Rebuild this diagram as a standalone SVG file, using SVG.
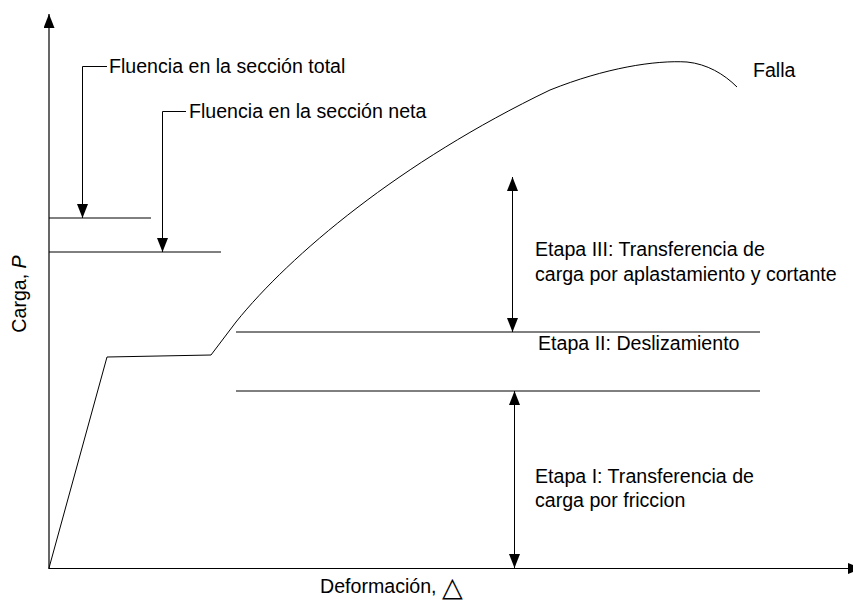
<svg xmlns="http://www.w3.org/2000/svg" width="853" height="601" viewBox="0 0 853 601">
<defs>
<marker id="ah" viewBox="0 0 14 11" refX="14" refY="5.5" markerWidth="14" markerHeight="11" markerUnits="userSpaceOnUse" orient="auto-start-reverse">
<path d="M0,0 L14,5.5 L0,11 Z" fill="#000"/>
</marker>
</defs>
<style>
text{font-family:"Liberation Sans",Arial,sans-serif;font-size:19.6px;fill:#000}
.ln{stroke:#000;stroke-width:1;fill:none}
.ax{stroke:#000;stroke-width:1.2;fill:none}
</style>
<rect width="853" height="601" fill="#fff"/>
<g id="axes">
<path class="ax" d="M49,568.5 L49,14" marker-end="url(#ah)"/>
<path class="ax" d="M48.4,568.5 L862,568.5" marker-end="url(#ah)"/>
<text id="xlabel" x="320" y="593">Deformación, <tspan font-family="'DejaVu Sans',sans-serif" font-size="27px" dy="3">△</tspan></text>
<text id="ylabel" transform="translate(26,294) rotate(-90)" text-anchor="middle">Carga, <tspan font-style="italic">P</tspan></text>
</g>
<g id="curve">
<path class="ln" d="M49,568 L107,357 L211,355 L236,322 C290,255 400,162 550,90 C605,68 655,60 687,62 C707,64 724,74 737,87"/>
<text x="753" y="77">Falla</text>
</g>
<g id="levels">
<line class="ln" x1="49" y1="218" x2="151" y2="218"/>
<line class="ln" x1="49" y1="252" x2="221" y2="252"/>
<line class="ln" x1="236" y1="332" x2="760" y2="332"/>
<line class="ln" x1="236" y1="391" x2="760" y2="391"/>
</g>
<g id="connectors">
<path class="ln" d="M107,66.5 L82.5,66.5 L82.5,218" marker-end="url(#ah)"/>
<path class="ln" d="M186,111.5 L162.5,111.5 L162.5,252" marker-end="url(#ah)"/>
<path class="ln" d="M512.5,177 L512.5,332" marker-start="url(#ah)" marker-end="url(#ah)"/>
<path class="ln" d="M514.5,391 L514.5,568" marker-start="url(#ah)" marker-end="url(#ah)"/>
</g>
<g id="label-total"><text x="109" y="73">Fluencia en la sección total</text></g>
<g id="label-neta"><text x="189" y="118">Fluencia en la sección neta</text></g>
<g id="etapa3"><text x="535" y="256">Etapa III: Transferencia de</text><text x="535" y="281">carga por aplastamiento y cortante</text></g>
<g id="etapa2"><text x="538" y="350">Etapa II: Deslizamiento</text></g>
<g id="etapa1"><text x="535" y="483">Etapa I: Transferencia de</text><text x="535" y="507">carga por friccion</text></g>
</svg>
